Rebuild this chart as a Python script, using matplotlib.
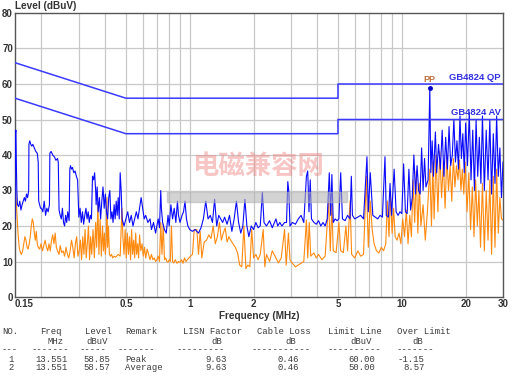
import matplotlib
matplotlib.use("Agg")
import matplotlib.pyplot as plt
from matplotlib.patches import Rectangle

plt.rcParams['font.family'] = ['Liberation Sans', 'DejaVu Sans']

# ---------------- data ----------------
peak_freq = [0.150, 0.1505, 0.1515, 0.152, 0.153, 0.154, 0.156, 0.158, 0.160, 0.162, 0.164, 0.166, 0.168, 0.170,
             0.172, 0.174, 0.1745, 0.176, 0.178, 0.180, 0.182, 0.185, 0.188, 0.191, 0.193, 0.194, 0.196, 0.198,
             0.200, 0.203, 0.206, 0.209, 0.212, 0.215, 0.218, 0.219, 0.222, 0.226, 0.230, 0.234, 0.238, 0.240,
             0.242, 0.245, 0.248, 0.251, 0.254, 0.257, 0.260, 0.263, 0.266, 0.270, 0.272, 0.274, 0.277, 0.280,
             0.284, 0.288, 0.292, 0.296, 0.300, 0.304, 0.308, 0.312, 0.316, 0.320, 0.324, 0.328, 0.332, 0.336,
             0.340, 0.344, 0.348, 0.352, 0.356, 0.360, 0.362, 0.366, 0.370, 0.375, 0.380, 0.385, 0.390, 0.395,
             0.400, 0.405, 0.410, 0.415, 0.420, 0.425, 0.430, 0.435, 0.440, 0.445, 0.450, 0.455, 0.460, 0.465,
             0.470, 0.475, 0.480, 0.490, 0.500, 0.510, 0.520, 0.530, 0.540, 0.550, 0.560, 0.570, 0.580, 0.590,
             0.600, 0.610, 0.620, 0.635, 0.650, 0.660, 0.675, 0.690, 0.700, 0.710, 0.720, 0.730, 0.735, 0.745,
             0.760, 0.775, 0.790, 0.800, 0.815, 0.830, 0.845, 0.860, 0.875, 0.885, 0.900, 0.920, 0.935, 0.950,
             0.965, 0.980, 1.00, 1.03, 1.06, 1.10, 1.13, 1.16, 1.19, 1.22, 1.25, 1.28, 1.31, 1.34, 1.37, 1.40,
             1.43, 1.46, 1.50, 1.54, 1.58, 1.62, 1.66, 1.70, 1.74, 1.78, 1.82, 1.86, 1.90, 1.95, 2.00, 2.05,
             2.10, 2.15, 2.20, 2.24, 2.30, 2.38, 2.45, 2.55, 2.60, 2.66, 2.72, 2.80, 2.86, 2.90, 2.93, 2.97,
             3.05, 3.15, 3.25, 3.35, 3.45, 3.55, 3.60, 3.65, 3.70, 3.75, 3.85, 3.95, 4.05, 4.15, 4.25, 4.35,
             4.45, 4.55, 4.62, 4.68, 4.75, 4.85, 4.95, 5.05, 5.15, 5.25, 5.40, 5.55, 5.70, 5.78, 5.85, 6.00,
             6.20, 6.40, 6.60, 6.85, 6.95, 7.10, 7.30, 7.50, 7.70, 7.90, 8.10, 8.33, 8.45, 8.65, 8.80, 8.95,
             9.20, 9.40, 9.60, 9.80, 10.0, 10.2, 10.4, 10.6, 10.8, 11.0, 11.2, 11.4, 11.6, 11.8, 12.0, 12.2,
             12.4, 12.6, 12.8, 13.0, 13.3, 13.551, 13.7, 13.9, 14.1, 14.4, 14.6, 14.9, 15.2, 15.5, 15.8, 16.1,
             16.4, 16.7, 17.0, 17.3, 17.6, 17.9, 18.2, 18.5, 18.8, 19.1, 19.4, 19.7, 20.0, 20.4, 20.8, 21.2,
             21.6, 22.0, 22.4, 22.8, 23.2, 23.6, 24.0, 24.5, 25.0, 25.5, 26.0, 26.5, 27.0, 27.5, 28.0, 28.5,
             29.0, 29.5, 30.0]
peak_level = [22, 46, 47, 40, 30, 26, 25.5, 27, 24.5, 26, 27, 28, 27, 29,
              28, 30, 43, 44, 43, 42.5, 43, 42, 41, 40.5, 38, 27, 26, 25,
              25, 24, 27, 23, 25, 24, 26, 40.5, 41, 40, 39.5, 38.5, 39, 38,
              24.5, 23, 22, 25, 21, 20, 23, 21, 24, 21.5, 36, 37, 36, 36.5,
              35, 35.5, 34, 33, 22.5, 25, 21, 24, 20.5, 23, 25, 22, 24, 21,
              23, 22, 34, 33, 35, 30, 26, 31, 24, 28, 22, 27, 31, 25,
              29, 24, 22, 28, 30, 22, 24, 21, 26, 22, 27, 23, 28, 22,
              35, 30, 22, 20, 22, 24, 21, 23, 20, 22, 24, 22, 25, 28,
              25, 22, 23, 21, 22, 19, 21, 18, 20, 22, 19.5, 30, 25, 21,
              19, 18, 23, 20, 26, 22, 25, 21, 27, 23, 21, 23, 24, 27,
              22, 20, 19, 18.5, 19, 18, 19.5, 22, 27, 22, 23, 21, 27.5, 20, 23, 22,
              21, 22.5, 20.5, 23, 18.5, 22, 27, 21, 18, 20, 27.5, 20, 17, 20, 19, 21,
              19.5, 20, 29.5, 21, 20, 21.5, 19.5, 22, 20, 21, 20, 21, 21, 32.5, 30, 20,
              21, 20.5, 22, 23, 21, 34, 35.5, 24, 33, 22, 21, 20.5, 21.5, 20, 21, 20,
              22, 35, 23, 34.5, 21, 22, 21.5, 22, 35, 22, 21.5, 23, 22, 34, 23, 22,
              22.5, 23, 22, 39.5, 24, 35, 23, 22.5, 22, 23, 22.5, 39.5, 23, 22.5, 32, 23,
              36, 24, 23, 24, 23.5, 37.5, 24, 23.5, 36, 24.5, 28, 40, 29, 37, 30, 29,
              42, 30, 39, 31, 33, 58.85, 35, 44, 34, 46.5, 35, 43, 36, 47, 34, 45,
              36, 48, 37, 40, 50, 38, 44, 36, 51, 39, 46, 35, 49, 37, 52, 33,
              47, 30, 50, 34, 45, 32, 51, 30, 47, 33, 50, 29, 46, 32, 51, 34,
              42, 28, 38]

avg_freq = [0.150, 0.1505, 0.151, 0.152, 0.153, 0.155, 0.157, 0.159, 0.161, 0.163, 0.165, 0.167, 0.169, 0.171,
            0.173, 0.175, 0.177, 0.179, 0.181, 0.183, 0.185, 0.187, 0.189, 0.191, 0.193, 0.196, 0.199, 0.202,
            0.205, 0.208, 0.211, 0.214, 0.217, 0.220, 0.223, 0.226, 0.229, 0.232, 0.235, 0.238, 0.242, 0.245,
            0.249, 0.253, 0.257, 0.261, 0.265, 0.269, 0.273, 0.277, 0.281, 0.285, 0.289, 0.293, 0.297, 0.301,
            0.305, 0.309, 0.313, 0.317, 0.321, 0.325, 0.329, 0.333, 0.337, 0.341, 0.345, 0.350, 0.355, 0.360,
            0.364, 0.369, 0.373, 0.378, 0.383, 0.388, 0.392, 0.396, 0.400, 0.404, 0.407, 0.410, 0.414, 0.418,
            0.423, 0.428, 0.433, 0.440, 0.447, 0.452, 0.460, 0.470, 0.479, 0.484, 0.490, 0.496, 0.502, 0.508,
            0.514, 0.520, 0.526, 0.532, 0.538, 0.544, 0.550, 0.556, 0.562, 0.568, 0.574, 0.580, 0.588, 0.596,
            0.604, 0.612, 0.620, 0.630, 0.640, 0.650, 0.660, 0.670, 0.680, 0.690, 0.700, 0.710, 0.720, 0.730,
            0.740, 0.750, 0.760, 0.770, 0.780, 0.790, 0.800, 0.810, 0.820, 0.830, 0.840, 0.855, 0.870, 0.885,
            0.900, 0.915, 0.930, 0.945, 0.960, 0.975, 0.990, 1.01, 1.03, 1.05, 1.08, 1.10, 1.12, 1.14, 1.17,
            1.20, 1.23, 1.26, 1.29, 1.32, 1.35, 1.38, 1.41, 1.44, 1.47, 1.50, 1.53, 1.56, 1.60, 1.64, 1.68,
            1.72, 1.76, 1.80, 1.84, 1.88, 1.92, 1.96, 2.00, 2.05, 2.10, 2.15, 2.22, 2.26, 2.30, 2.38, 2.45,
            2.55, 2.62, 2.70, 2.80, 2.85, 2.92, 2.97, 3.05, 3.15, 3.25, 3.35, 3.45, 3.55, 3.60, 3.66, 3.72,
            3.85, 3.95, 4.05, 4.20, 4.35, 4.52, 4.60, 4.68, 4.75, 4.90, 5.05, 5.15, 5.30, 5.45, 5.55, 5.70,
            5.80, 6.00, 6.20, 6.40, 6.60, 6.80, 6.95, 7.10, 7.25, 7.40, 7.60, 7.80, 8.00, 8.20, 8.40, 8.55,
            8.70, 8.85, 9.00, 9.15, 9.30, 9.50, 9.70, 9.90, 10.1, 10.3, 10.5, 10.7, 10.9, 11.1, 11.3, 11.5,
            11.7, 11.9, 12.1, 12.3, 12.6, 12.9, 13.2, 13.551, 13.8, 14.0, 14.2, 14.5, 14.8, 15.1, 15.4, 15.7,
            16.0, 16.3, 16.6, 16.9, 17.2, 17.5, 17.8, 18.1, 18.4, 18.7, 19.0, 19.3, 19.6, 19.9, 20.3, 20.7,
            21.1, 21.5, 21.9, 22.3, 22.7, 23.1, 23.5, 24.0, 24.5, 25.0, 25.5, 26.0, 26.5, 27.0, 27.5, 28.0,
            28.5, 29.0, 29.5, 30.0]
avg_level = [25, 31, 30, 27, 24, 18, 14, 12.5, 12, 13, 15, 17, 16, 14,
             13.5, 15, 17, 20, 22, 21, 18, 16, 18.5, 15, 14, 13.5, 15, 13,
             14.5, 16, 14, 13, 15, 13, 16, 17.5, 15, 18, 14, 13, 12, 14.5,
             12.5, 13, 11.5, 14, 12, 11, 13, 16, 14, 11, 15, 17, 11.5, 13,
             16, 10.5, 17, 12, 19, 11, 15, 20, 10.5, 17, 12, 19, 11, 21,
             14, 26.5, 12, 22, 11.5, 20, 13, 18, 12, 16, 28, 14, 20, 12,
             11.5, 12, 11, 11.5, 11.2, 11.5, 12, 11.5, 25, 17, 12, 19, 11, 18,
             12, 17, 10.5, 19, 12, 16, 11, 18, 12, 15, 11, 17.5, 13, 15,
             11.5, 14, 11, 13.5, 12, 10.5, 12, 10.5, 11, 10, 10.5, 11.5, 10, 21,
             12, 20.5, 10.5, 11, 10, 9.8, 10.5, 10, 20, 10, 9.6, 10.5, 9.5, 10,
             9.8, 10.5, 9.5, 11, 10, 10.5, 11, 11.5, 12, 19, 19, 12, 18.5, 11, 15.5,
             16, 17.5, 16.5, 20, 15, 17, 21, 16, 18, 19.5, 15.5, 17, 16, 15, 14, 12.5,
             9, 8.5, 20, 8, 9, 8.5, 19, 11, 12, 10.5, 12, 19, 8.5, 12, 10, 13,
             11, 9.6, 11, 19, 9, 18, 10.4, 9.5, 8.5, 9, 9.5, 10, 21.7, 11, 21, 11.5,
             12.4, 11, 12, 10.5, 11.5, 27, 13, 26, 13, 12.5, 21, 13, 12.5, 20, 13, 27,
             12, 11, 13, 11.5, 12, 34, 14, 27, 19, 15, 13, 12.4, 14, 13, 15, 27,
             17, 28.5, 18, 25, 17, 16, 18, 15, 22, 17, 24.5, 15, 23, 17, 33, 21,
             35.5, 18, 32, 20, 26, 16, 24, 36, 20, 38, 22, 40, 24, 41, 28, 38,
             25, 40, 30, 37, 27, 39, 31, 37, 33, 38.5, 30, 36, 29, 38, 24, 35,
             19, 31, 17, 33, 20, 30, 14, 32, 13, 30, 16, 33, 12, 34, 14, 36,
             18, 28, 22, 21.7]

qp_limit_freq = [0.15, 0.5, 0.5, 5.0, 5.0, 30.0]
qp_limit_level = [66, 56, 56, 56, 60, 60]
av_limit_freq = [0.15, 0.5, 0.5, 5.0, 5.0, 30.0]
av_limit_level = [56, 46, 46, 46, 50, 50]

marker_freq = 13.551
marker_level = 58.85

x_ticks = [0.15, 0.5, 1, 2, 5, 10, 20, 30]
x_tick_labels = ["0.15", "0.5", "1", "2", "5", "10", "20", "30"]
x_grid = [0.2, 0.3, 0.4, 0.5, 0.6, 0.7, 0.8, 0.9, 1, 2, 3, 4, 5, 6, 7, 8, 9, 10, 20]
y_ticks = [0, 10, 20, 30, 40, 50, 60, 70, 80]

# table text: (x pixel, text) for each row
table_header1 = [(2, "NO."), (40, "Freq"), (85, "Level"), (125, "Remark"), (183, "LISN Factor"),
                 (257, "Cable Loss"), (328, "Limit Line"), (397, "Over Limit")]
table_header2 = [(47, "MHz"), (86, "dBuV"), (211, "dB"), (285, "dB"), (350, "dBuV"), (412, "dB")]
table_dashes = [(2, "---"), (32, "-------"), (80, "-----"), (118, "-------"), (177, "---------"),
                (252, "-----------"), (328, "----------"), (397, "-------")]
table_row1 = [(8, "1"), (35, "13.551"), (83, "58.85"), (125, "Peak"), (205, "9.63"),
              (278, "0.46"), (348, "60.00"), (398, "-1.15")]
table_row2 = [(8, "2"), (35, "13.551"), (83, "58.57"), (125, "Average"), (205, "9.63"),
              (278, "0.46"), (348, "50.00"), (403, "8.57")]

# ---------------- figure ----------------
W, H = 514, 382
fig = plt.figure(figsize=(W / 100, H / 100), dpi=100)
fig.patch.set_facecolor("white")
ax = fig.add_axes([15 / W, 1 - 297 / H, 488 / W, 284 / H])
ax.set_xscale("log")
ax.set_xlim(0.15, 30)
ax.set_ylim(0, 80)

for g in x_grid:
    ax.axvline(g, color="#c8c8c8", lw=0.9, zorder=0)
for yv in y_ticks[1:-1]:
    ax.axhline(yv, color="#c8c8c8", lw=0.9, zorder=0)

ax.set_xticks(x_ticks)
ax.set_xticklabels(x_tick_labels)
ax.xaxis.set_minor_locator(matplotlib.ticker.NullLocator())
ax.set_yticks(y_ticks)
ax.tick_params(axis="both", length=0, labelsize=7, colors="#333333")
ax.tick_params(axis="y", pad=1.5)
ax.tick_params(axis="x", pad=1.5)
for lab in ax.get_xticklabels() + ax.get_yticklabels():
    lab.set_fontweight("bold")
ax.get_xticklabels()[0].set_horizontalalignment("left")
for s in ax.spines.values():
    s.set_color("#555555")
    s.set_linewidth(1.0)

ax.plot(avg_freq, avg_level, color="#ff8a10", lw=0.8, zorder=2)
ax.plot(peak_freq, peak_level, color="#0a0aff", lw=0.8, zorder=3)
ax.plot(qp_limit_freq, qp_limit_level, color="#3a3aff", lw=1.1, zorder=4)
ax.plot(av_limit_freq, av_limit_level, color="#3a3aff", lw=1.1, zorder=4)
ax.plot([marker_freq], [marker_level], "o", color="#0000cc", ms=2.5, zorder=5)
ax.text(marker_freq, marker_level + 1.2, "PP", color="#c07040", fontsize=6.5,
        fontweight="bold", ha="center", va="bottom", zorder=6)
ax.text(29.2, 60.6, "GB4824 QP", color="#3030e0", fontsize=6.8, fontweight="bold",
        ha="right", va="bottom", zorder=6)
ax.text(29.2, 50.6, "GB4824 AV", color="#3030e0", fontsize=6.8, fontweight="bold",
        ha="right", va="bottom", zorder=6)

# watermark
fig.text(258 / W, 1 - 167 / H, "电磁兼容网", fontsize=19, fontweight="bold",
         color="#f08080", alpha=0.45, ha="center", va="center",
         family=["Noto Sans CJK SC", "DejaVu Sans"], zorder=10)
fig.patches.append(Rectangle((167 / W, 1 - 202 / H), 180 / W, 10 / H,
                             transform=fig.transFigure, color="#b0b0b0",
                             alpha=0.55, zorder=10))

# axis titles
fig.text(15 / W, 1 - 6 / H, "Level (dBuV)", fontsize=7.2, fontweight="bold",
         color="#333333", ha="left", va="center")
fig.text(259 / W, 1 - 316 / H, "Frequency (MHz)", fontsize=7.2, fontweight="bold",
         color="#333333", ha="center", va="center")

# table
for row, yp in zip([table_header1, table_header2, table_dashes, table_row1, table_row2],
                   [332, 341, 350, 359, 368]):
    for xp, txt in row:
        fig.text(xp / W, 1 - yp / H, txt, fontsize=6.4, color="#3a3a3a",
                 family="Liberation Mono", ha="left", va="center")

fig.savefig("out.png", dpi=100)
